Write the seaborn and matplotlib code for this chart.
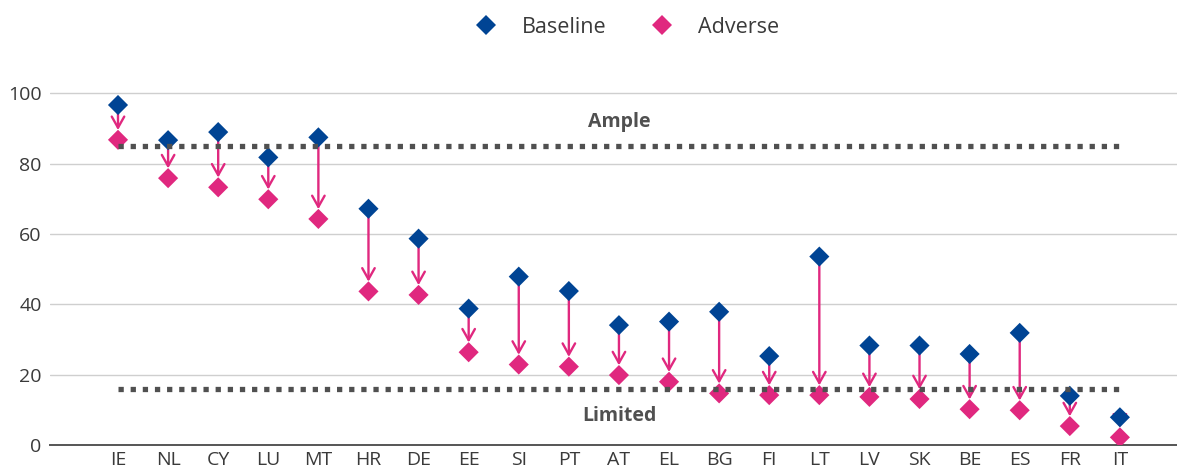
import numpy as np
import pandas as pd
import matplotlib
matplotlib.use("Agg")
import matplotlib.pyplot as plt
import seaborn as sns

# ==========================
# data
# ==========================
countries = ["IE", "NL", "CY", "LU", "MT", "HR", "DE", "EE", "SI", "PT", "AT",
             "EL", "BG", "FI", "LT", "LV", "SK", "BE", "ES", "FR", "IT"]
baseline = [96.7, 86.7, 89.0, 81.8, 87.5, 67.2, 58.7, 38.8, 47.9, 43.8, 34.1,
            35.1, 37.9, 25.3, 53.6, 28.3, 28.3, 25.9, 31.9, 14.0, 7.9]
adverse = [86.8, 75.9, 73.3, 69.9, 64.3, 43.7, 42.7, 26.4, 22.9, 22.3, 19.9,
           18.0, 14.7, 14.2, 14.2, 13.7, 13.1, 10.2, 9.9, 5.4, 2.2]
ample_level = 85
limited_level = 16

BLUE = "#004494"
PINK = "#E0287F"
DOTS = "#505050"
TXT = "#3a3a3a"

df = pd.DataFrame({
    "country": countries * 2,
    "value": baseline + adverse,
    "scenario": ["Baseline"] * len(countries) + ["Adverse"] * len(countries),
})

# ==========================
# figure
# ==========================
sns.set_style("white")
plt.rcParams["font.family"] = ["Open Sans", "DejaVu Sans"]

fig = plt.figure(figsize=(11.77, 4.68), dpi=100)
ax = fig.add_axes([0.0425, 0.049, 0.9575, 0.789])

sns.scatterplot(data=df, x="country", y="value", hue="scenario",
                palette={"Baseline": BLUE, "Adverse": PINK},
                marker="D", s=105, linewidth=0, zorder=3, ax=ax, legend=True)

# arrows baseline -> adverse
for i in range(len(countries)):
    ax.annotate("", xy=(i, adverse[i]), xytext=(i, baseline[i]),
                arrowprops=dict(arrowstyle="->,head_length=0.8,head_width=0.45",
                                color=PINK, lw=1.7, shrinkA=0, shrinkB=7,
                                mutation_scale=10),
                zorder=2)

# threshold lines
n = len(countries) - 1
ax.plot([0, n], [ample_level, ample_level], color=DOTS, lw=3.8,
        linestyle=(0, (1, 1.3)), dash_capstyle="butt", zorder=5)
ax.plot([0, n], [limited_level, limited_level], color=DOTS, lw=3.8,
        linestyle=(0, (1, 1.3)), dash_capstyle="butt", zorder=5)
ax.text(10, 91.9, "Ample", ha="center", va="center", fontsize=14,
        fontweight="bold", color=DOTS)
ax.text(10, 8.2, "Limited", ha="center", va="center", fontsize=14,
        fontweight="bold", color=DOTS)

# axes styling
ax.set_xlim(-1.357, 21.14)
ax.set_ylim(0, 105)
ax.set_yticks([0, 20, 40, 60, 80, 100])
ax.set_xlabel("")
ax.set_ylabel("")
ax.grid(axis="y", color="#cfcfcf", lw=1.0)
ax.grid(axis="x", visible=False)
ax.set_axisbelow(True)
for side in ["left", "right", "top"]:
    ax.spines[side].set_visible(False)
ax.spines["bottom"].set_color("#555555")
ax.spines["bottom"].set_linewidth(1.4)
ax.tick_params(axis="both", length=0, labelsize=14, colors=TXT)
ax.tick_params(axis="x", pad=4)
ax.tick_params(axis="y", pad=6)

# legend on top
handles, labels = ax.get_legend_handles_labels()
ax.get_legend().remove()
fig.legend(handles, labels, loc="center", bbox_to_anchor=(0.533, 0.942),
           ncol=2, frameon=False, fontsize=15.5, handlelength=1.0,
           handletextpad=1.15, columnspacing=2.1, labelcolor=TXT)

fig.savefig("out.png", dpi=100)
